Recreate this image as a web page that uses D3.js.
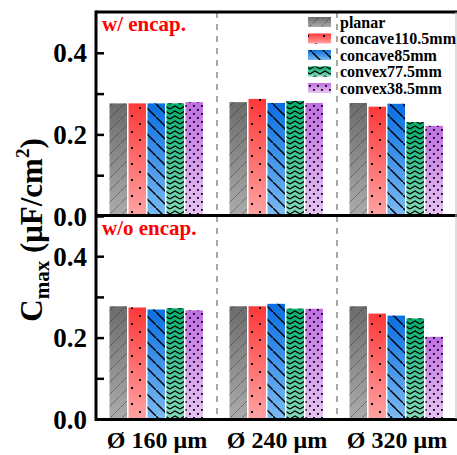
<!DOCTYPE html>
<html><head><meta charset="utf-8">
<script src="https://cdn.jsdelivr.net/npm/d3@7"></script>
<style>html,body{margin:0;padding:0;background:#fff}svg{display:block}</style>
</head><body>
<script>
const categories = ["Ø 160 μm", "Ø 240 μm", "Ø 320 μm"];
const seriesNames = ["planar", "concave110.5mm", "concave85mm", "convex77.5mm", "convex38.5mm"];
const panelLabels = ["w/ encap.", "w/o encap."];
// values per category, per series (order = seriesNames)
const encapValues = [
  [0.276, 0.276, 0.276, 0.276, 0.279],
  [0.279, 0.287, 0.277, 0.282, 0.277],
  [0.277, 0.268, 0.275, 0.230, 0.221]
];
const noEncapValues = [
  [0.277, 0.274, 0.269, 0.272, 0.267],
  [0.277, 0.277, 0.283, 0.271, 0.271],
  [0.277, 0.259, 0.254, 0.247, 0.202]
];
const yTicks = [0, 0.1, 0.2, 0.3, 0.4];
const yLabeled = [0, 0.2, 0.4];

const W = 457, H = 455;
const svg = d3.select("body").append("svg").attr("width", W).attr("height", H);
const defs = svg.append("defs");

const grads = [
  ["#6c6c6c", "#ababab"],
  ["#ff3838", "#ffa3a3"],
  ["#0a6fe2", "#7cbaf2"],
  ["#00b06c", "#84dcbc"],
  ["#c06ee2", "#e6c4f2"]
];
grads.forEach((g, i) => {
  const lg = defs.append("linearGradient").attr("id", "g" + i)
    .attr("x1", 0).attr("y1", 0).attr("x2", 0).attr("y2", 1);
  lg.append("stop").attr("offset", "0%").attr("stop-color", g[0]);
  lg.append("stop").attr("offset", "100%").attr("stop-color", g[1]);
});
// patterns
function pat(id, w, h) {
  return defs.append("pattern").attr("id", id).attr("patternUnits", "userSpaceOnUse")
    .attr("width", w).attr("height", h);
}
let p0 = pat("p0", 12, 12);
p0.append("path").attr("d", "M-3,15 L15,-3").attr("stroke", "#222").attr("stroke-width", 0.8)
  .attr("stroke-dasharray", "1.5,1.5").attr("fill", "none");
let p1 = pat("p1", 16, 16);
p1.append("rect").attr("x", 3).attr("y", 3).attr("width", 2).attr("height", 2).attr("fill", "#000");
p1.append("rect").attr("x", 11).attr("y", 11).attr("width", 2).attr("height", 2).attr("fill", "#000");
let p2 = pat("p2", 13, 13);
p2.append("path").attr("d", "M-3,-3 L16,16").attr("stroke", "#000").attr("stroke-width", 1.4).attr("fill", "none");
let p3 = pat("p3", 10, 5);
p3.append("path").attr("d", "M0,4 L5,1 L10,4").attr("stroke", "#000").attr("stroke-width", 1.3).attr("fill", "none");
let p4 = pat("p4", 8, 8);
p4.append("rect").attr("x", 1).attr("y", 1).attr("width", 1.8).attr("height", 1.8).attr("fill", "#000");
p4.append("rect").attr("x", 5).attr("y", 5).attr("width", 1.8).attr("height", 1.8).attr("fill", "#000");

const font = "'Liberation Serif', 'Times New Roman', serif";
const x0 = d3.scaleBand().domain(categories).range([97, 457]).paddingInner(0).paddingOuter(0);
const x1 = d3.scaleBand().domain(seriesNames).range([0, x0.bandwidth()]).paddingInner(0).paddingOuter(0.66);

const panels = [
  {vals: encapValues, y: d3.scaleLinear().domain([0, 0.5]).range([216, 12]), label: panelLabels[0]},
  {vals: noEncapValues, y: d3.scaleLinear().domain([0, 0.5]).range([419, 215.5]), label: panelLabels[1]}
];

// dashed dividers
[categories[1], categories[2]].forEach(c => {
  svg.append("line").attr("x1", x0(c)).attr("x2", x0(c)).attr("y1", 12).attr("y2", 419)
    .attr("stroke", "#8a8a8a").attr("stroke-width", 1.5).attr("stroke-dasharray", "6,6");
});

panels.forEach((P, pi) => {
  const g = svg.append("g");
  categories.forEach((c, ci) => {
    seriesNames.forEach((s, si) => {
      const v = P.vals[ci][si];
      const bx = x0(c) + x1(s), bw = x1.bandwidth() - 1.5;
      const by = P.y(v), bh = P.y(0) - P.y(v);
      g.append("rect").attr("x", bx).attr("y", by).attr("width", bw).attr("height", bh).attr("fill", `url(#g${si})`);
      g.append("rect").attr("x", bx).attr("y", by).attr("width", bw).attr("height", bh).attr("fill", `url(#p${si})`);
    });
  });
  // axis
  const ax = d3.axisLeft(P.y).tickValues(yTicks).tickSize(-8).tickPadding(9)
    .tickFormat(d => yLabeled.some(t => Math.abs(t - d) < 1e-9) ? d3.format(".1f")(d) : "");
  const ag = svg.append("g").attr("transform", "translate(96,0)").call(ax);
  ag.select(".domain").remove();
  ag.selectAll(".tick line").attr("stroke", "#000").attr("stroke-width", 2.5);
  ag.selectAll(".tick text").attr("font-family", font).attr("font-weight", "bold")
    .attr("font-size", 27).attr("fill", "#000").attr("dy", "0.34em");
  // panel label
  svg.append("text").attr("x", 102).attr("y", P.y(0.5) + 19).attr("font-family", font)
    .attr("font-weight", "bold").attr("font-size", 21).attr("fill", "#ff0000").text(P.label);
});

// frame
svg.append("line").attr("x1", 96).attr("x2", 457).attr("y1", 12).attr("y2", 12).attr("stroke", "#000").attr("stroke-width", 3);
svg.append("line").attr("x1", 96).attr("x2", 457).attr("y1", 215.5).attr("y2", 215.5).attr("stroke", "#000").attr("stroke-width", 3);
svg.append("line").attr("x1", 96).attr("x2", 457).attr("y1", 419.5).attr("y2", 419.5).attr("stroke", "#000").attr("stroke-width", 3);
svg.append("line").attr("x1", 96).attr("x2", 96).attr("y1", 10.5).attr("y2", 421).attr("stroke", "#000").attr("stroke-width", 3);
svg.append("line").attr("x1", 456).attr("x2", 456).attr("y1", 12).attr("y2", 419).attr("stroke", "#bbb").attr("stroke-width", 1);

// x labels
categories.forEach(c => {
  svg.append("text").attr("x", x0(c) + x0.bandwidth() / 2).attr("y", 448).attr("text-anchor", "middle")
    .attr("font-family", font).attr("font-weight", "bold").attr("font-size", 24).text(c);
});

// y title
const yt = svg.append("text").attr("transform", "translate(42,230) rotate(-90)").attr("text-anchor", "middle")
  .attr("font-family", font).attr("font-weight", "bold").attr("font-size", 31);
yt.append("tspan").text("C");
yt.append("tspan").attr("font-size", 21).attr("dy", 7).text("max");
yt.append("tspan").attr("dy", -7).text(" (μF/cm");
yt.append("tspan").attr("font-size", 19).attr("dy", -13).text("2");
yt.append("tspan").attr("dy", 13).text(")");

// legend
const lg = svg.append("g");
seriesNames.forEach((s, i) => {
  const ly = 17 + i * 16.5;
  lg.append("rect").attr("x", 308).attr("y", ly).attr("width", 23).attr("height", 10).attr("fill", `url(#g${i})`);
  lg.append("rect").attr("x", 308).attr("y", ly).attr("width", 23).attr("height", 10).attr("fill", `url(#p${i})`);
  lg.append("text").attr("x", 340).attr("y", ly + 10.5).attr("font-family", font).attr("font-weight", "bold")
    .attr("font-size", 16).text(s);
});
</script>
</body></html>
